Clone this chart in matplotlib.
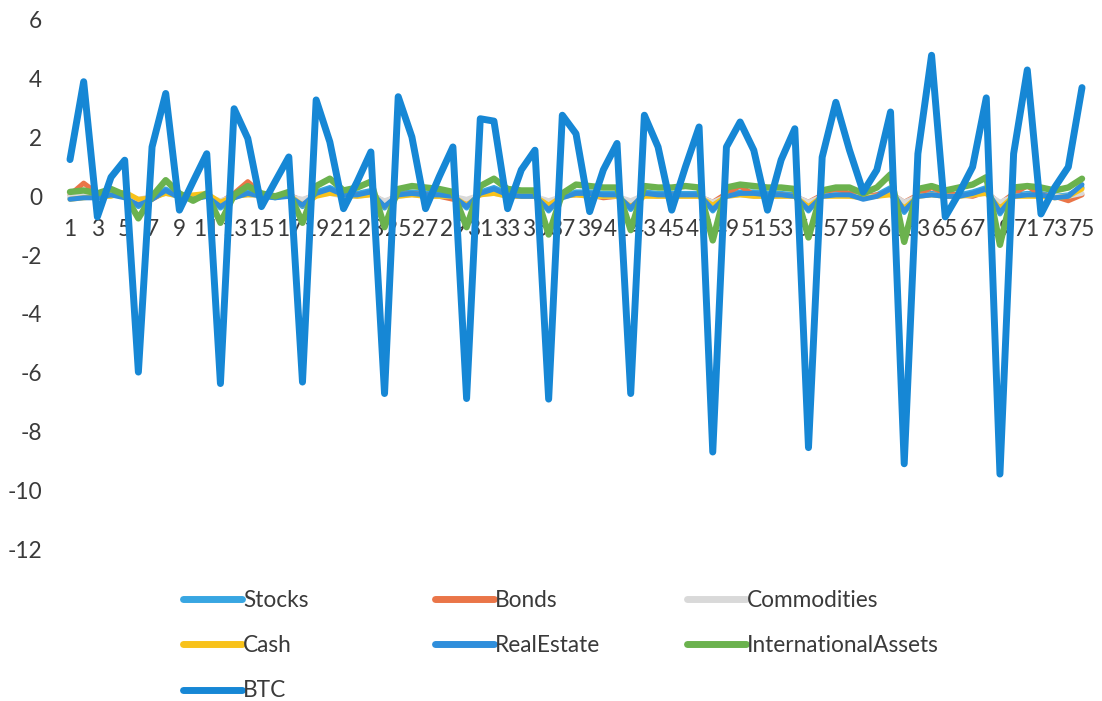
import matplotlib
matplotlib.use("Agg")
import matplotlib.pyplot as plt
from matplotlib.lines import Line2D

# ---- data -------------------------------------------------------------
periods = list(range(1, 76))

stocks = [-0.05, 0.0, -0.05, 0.1, 0.0, -0.35, -0.1, 0.25, 0.0, -0.1,
          0.05, -0.4, -0.05, 0.15, 0.05, -0.05, 0.05, -0.35, 0.15, 0.3,
          0.1, 0.1, 0.2, -0.4, 0.1, 0.15, 0.1, 0.1, 0.05, -0.4,
          0.15, 0.3, 0.1, 0.05, 0.05, -0.5, 0.0, 0.15, 0.15, 0.1,
          0.1, -0.45, 0.15, 0.1, 0.1, 0.1, 0.1, -0.5, 0.05, 0.15,
          0.15, 0.1, 0.1, 0.05, -0.5, 0.05, 0.1, 0.1, -0.05, 0.05,
          0.3, -0.55, 0.05, 0.1, 0.05, 0.05, 0.15, 0.3, -0.6, 0.05,
          0.1, 0.1, 0.0, 0.05, 0.3]

bonds = [0.05, 0.45, 0.1, 0.05, 0.05, -0.25, -0.1, 0.15, 0.05, 0.0,
         0.05, -0.2, 0.1, 0.5, 0.1, 0.0, 0.05, -0.15, 0.1, 0.2,
         0.05, 0.05, 0.1, -0.2, 0.05, 0.1, 0.05, 0.0, -0.1, -0.2,
         0.05, 0.2, 0.05, 0.0, 0.0, -0.25, 0.0, 0.05, 0.05, -0.05,
         0.0, -0.25, 0.1, 0.0, 0.05, 0.0, 0.0, -0.2, 0.1, 0.35,
         0.05, 0.0, 0.05, 0.0, -0.2, 0.05, 0.25, 0.1, 0.0, 0.05,
         0.1, -0.2, 0.05, 0.3, 0.1, 0.05, 0.0, 0.15, -0.25, 0.1,
         0.35, 0.05, 0.0, -0.15, 0.05]

commodities = [0.0, 0.05, 0.0, 0.05, 0.0, -0.1, 0.0, 0.1, 0.0, -0.05,
               0.0, -0.15, 0.0, 0.05, 0.0, 0.0, 0.0, -0.1, 0.05, 0.1,
               0.0, 0.0, 0.05, -0.15, 0.0, 0.05, 0.0, 0.0, 0.0, -0.1,
               0.05, 0.1, 0.0, 0.0, 0.0, -0.15, 0.0, 0.05, 0.0, 0.0,
               0.0, -0.15, 0.05, 0.0, 0.0, 0.0, 0.0, -0.2, 0.0, 0.05,
               0.0, 0.0, 0.0, 0.0, -0.2, 0.0, 0.05, 0.0, 0.0, 0.0,
               0.1, -0.2, 0.0, 0.05, 0.0, 0.0, 0.05, 0.1, -0.2, 0.0,
               0.05, 0.0, 0.0, 0.0, 0.1]

cash = [-0.1, -0.05, 0.0, 0.0, 0.15, -0.1, -0.05, 0.1, 0.0, 0.05,
        0.1, -0.2, 0.0, 0.05, 0.05, 0.0, 0.05, -0.3, 0.0, 0.1,
        0.05, 0.0, 0.05, -0.35, 0.0, 0.05, 0.0, 0.0, 0.0, -0.3,
        0.05, 0.1, 0.0, 0.0, 0.0, -0.3, 0.0, 0.05, 0.0, 0.0,
        0.0, -0.35, 0.0, 0.0, 0.0, 0.0, 0.0, -0.3, 0.0, 0.05,
        0.0, 0.0, 0.0, 0.0, -0.35, 0.0, 0.0, 0.0, -0.05, 0.0,
        0.05, -0.4, 0.0, 0.05, 0.0, 0.0, 0.05, 0.1, -0.4, 0.0,
        0.0, 0.0, -0.05, 0.0, 0.25]

real_estate = [-0.1, -0.05, -0.05, 0.05, -0.05, -0.3, -0.1, 0.2, -0.05, -0.1,
               0.0, -0.35, -0.05, 0.1, 0.0, -0.05, 0.0, -0.3, 0.1, 0.25,
               0.05, 0.05, 0.15, -0.35, 0.05, 0.1, 0.05, 0.05, 0.0, -0.35,
               0.1, 0.25, 0.05, 0.0, 0.0, -0.45, -0.05, 0.1, 0.1, 0.05,
               0.05, -0.4, 0.1, 0.05, 0.05, 0.05, 0.05, -0.45, 0.0, 0.1,
               0.1, 0.05, 0.05, 0.0, -0.45, 0.0, 0.05, 0.05, -0.1, 0.0,
               0.25, -0.5, 0.0, 0.05, 0.0, 0.0, 0.1, 0.25, -0.55, 0.0,
               0.05, 0.05, -0.05, 0.0, 0.4]

international = [0.15, 0.2, 0.1, 0.25, 0.05, -0.75, 0.0, 0.55, 0.1, -0.15,
                 0.1, -0.9, 0.05, 0.35, 0.1, 0.0, 0.15, -0.9, 0.35, 0.6,
                 0.2, 0.3, 0.5, -1.05, 0.25, 0.35, 0.3, 0.25, 0.15, -1.05,
                 0.35, 0.6, 0.25, 0.2, 0.2, -1.3, 0.1, 0.4, 0.35, 0.3,
                 0.3, -1.15, 0.35, 0.3, 0.3, 0.35, 0.3, -1.5, 0.3, 0.4,
                 0.35, 0.3, 0.3, 0.25, -1.4, 0.2, 0.3, 0.3, 0.1, 0.3,
                 0.75, -1.55, 0.25, 0.35, 0.2, 0.3, 0.4, 0.65, -1.65, 0.3,
                 0.35, 0.3, 0.2, 0.3, 0.6]

btc = [1.25, 3.9, -0.7, 0.65, 1.23, -5.98, 1.68, 3.5, -0.47, 0.5,
       1.45, -6.37, 2.98, 1.97, -0.35, 0.5, 1.34, -6.32, 3.28, 1.85,
       -0.42, 0.5, 1.51, -6.71, 3.39, 2.02, -0.42, 0.67, 1.68, -6.88,
       2.64, 2.56, -0.42, 0.9, 1.57, -6.9, 2.76, 2.13, -0.52, 0.9,
       1.8, -6.71, 2.76, 1.68, -0.47, 1.0, 2.36, -8.7, 1.68, 2.53,
       1.57, -0.47, 1.24, 2.3, -8.55, 1.33, 3.2, 1.57, 0.15, 0.9,
       2.87, -9.1, 1.45, 4.8, -0.7, 0.1, 1.0, 3.35, -9.45, 1.45,
       4.3, -0.6, 0.3, 1.0, 3.7]

series_names = ["Stocks", "Bonds", "Commodities", "Cash",
                "RealEstate", "InternationalAssets", "BTC"]
series_values = [stocks, bonds, commodities, cash,
                 real_estate, international, btc]
series_colors = ["#38A6E2", "#EA7548", "#D9D9D9", "#F8C21A",
                 "#2F8EDB", "#6BB24E", "#1687D5"]
series_widths = [3.6, 3.6, 3.6, 3.6, 3.6, 4.6, 5.0]

y_ticks = [6, 4, 2, 0, -2, -4, -6, -8, -10, -12]
x_tick_labels = [str(p) for p in periods[::2]]

# ---- figure -----------------------------------------------------------
W, H = 1102, 701
plt.rcParams["font.family"] = ["Lato", "DejaVu Sans"]
fig = plt.figure(figsize=(W / 100, H / 100), dpi=100)
fig.patch.set_facecolor("white")

ax = fig.add_axes([70 / W, 1 - 549 / H, (1082 - 70) / W, (549 - 20) / H])
ax.set_facecolor("none")

for name, vals, col, lw in zip(series_names, series_values,
                               series_colors, series_widths):
    ax.plot(periods, vals, color=col, lw=lw, label=name,
            solid_joinstyle="round", solid_capstyle="round", clip_on=False)

ax.set_xlim(1, 75)
ax.set_ylim(-12, 6)
ax.set_yticks(y_ticks)
ax.set_yticklabels([str(v) for v in y_ticks])
ax.set_xticks(periods[::2])
ax.set_xticklabels(x_tick_labels)

for s in ax.spines.values():
    s.set_visible(False)
ax.spines["bottom"].set_position(("data", 0))

text_col = "#3a3a3a"
tick_size = 16.3
ax.tick_params(axis="y", length=0, pad=20, labelsize=tick_size, labelcolor=text_col)
ax.tick_params(axis="x", length=0, pad=16, labelsize=tick_size, labelcolor=text_col)

# ---- legend: three columns placed under the plot ----------------------
legend_size = 16.3
handles = {n: Line2D([], [], color=c, lw=5.0, solid_capstyle="round")
           for n, c in zip(series_names, series_colors)}
columns = [(["Stocks", "Cash", "BTC"], 183),
           (["Bonds", "RealEstate"], 435),
           (["Commodities", "InternationalAssets"], 687)]
for names, x0 in columns:
    leg = fig.legend([handles[n] for n in names], names,
                     loc="upper left", bbox_to_anchor=(x0 / W, 1 - 590 / H),
                     frameon=False, borderpad=0, borderaxespad=0,
                     handlelength=2.6, handletextpad=0.05,
                     labelspacing=1.07, fontsize=legend_size)
    for t in leg.get_texts():
        t.set_color(text_col)

fig.savefig("out.png", dpi=100, facecolor="white")
